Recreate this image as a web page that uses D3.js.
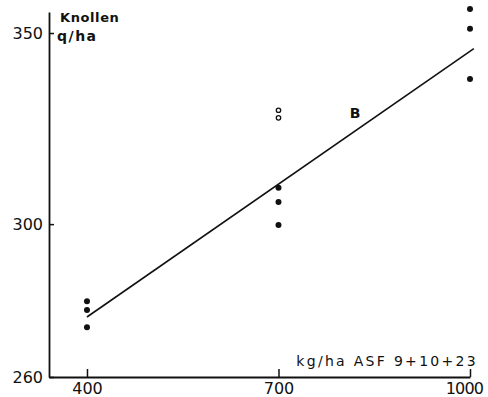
<!DOCTYPE html>
<html><head><meta charset="utf-8">
<script src="https://cdn.jsdelivr.net/npm/d3@7"></script>
<style>
html,body{margin:0;padding:0;background:#fff;}
svg{display:block;}
text{font-family:"DejaVu Sans",sans-serif;fill:#111;}
</style></head>
<body>
<svg id="c" width="488" height="397"></svg>
<script>
// data
const xTickValues = [400, 700, 1000];
const yTickValues = [260, 300, 350];
const dotX = [400, 400, 400, 700, 700, 700, 1000, 1000, 1000];
const dotY = [279.8, 277.5, 273.0, 309.5, 305.8, 299.8, 356.3, 351.1, 338.0];
const openX = [700, 700];
const openY = [329.8, 327.8];
const lineX = [400, 1006];
const lineY = [275.7, 345.9];
const markLabel = {x: 820, y: 329.2, text: "B"};
const yTitle = ["Knollen", "q/ha"];
const xTitle = "kg/ha ASF 9+10+23";

const svg = d3.select("#c");
const x = d3.scaleLinear().domain([340.5, 1000]).range([49, 470]);
const y = d3.scaleLinear().domain([260, 355.5]).range([377, 12]);

// x axis
const gx = svg.append("g").attr("transform", "translate(0,377)")
  .call(d3.axisBottom(x).tickValues(xTickValues).tickSizeInner(-8).tickSizeOuter(0).tickPadding(6).tickFormat(d3.format("d")));
gx.select(".domain").attr("stroke", "#111").attr("stroke-width", 1.8);
gx.selectAll(".tick line").attr("stroke", "#111").attr("stroke-width", 1.5);
gx.selectAll(".tick text").attr("font-size", 16).attr("font-family", "DejaVu Sans").attr("fill", "#111")
  .attr("dx", d => d === 1000 ? -6 : 0).attr("letter-spacing", d => d === 1000 ? -0.8 : 0);

// y axis
const gy = svg.append("g").attr("transform", "translate(49,0)")
  .call(d3.axisLeft(y).tickValues(yTickValues).tickSizeInner(-5).tickSizeOuter(0).tickPadding(6).tickFormat(d3.format("d")));
gy.select(".domain").attr("stroke", "#111").attr("stroke-width", 1.8);
gy.selectAll(".tick line").attr("stroke", "#111").attr("stroke-width", 1.5);
gy.selectAll(".tick text").attr("font-size", 16).attr("font-family", "DejaVu Sans").attr("fill", "#111");

// regression line
svg.append("line")
  .attr("x1", x(lineX[0])).attr("y1", y(lineY[0]))
  .attr("x2", x(lineX[1])).attr("y2", y(lineY[1]))
  .attr("stroke", "#111").attr("stroke-width", 1.6);

// dots
svg.selectAll("circle.d").data(dotX.map((d, i) => [d, dotY[i]])).enter()
  .append("circle").attr("class", "d")
  .attr("cx", d => x(d[0])).attr("cy", d => y(d[1])).attr("r", 3).attr("fill", "#111");

svg.selectAll("circle.o").data(openX.map((d, i) => [d, openY[i]])).enter()
  .append("circle").attr("class", "o")
  .attr("cx", d => x(d[0])).attr("cy", d => y(d[1])).attr("r", 2.2)
  .attr("fill", "none").attr("stroke", "#111").attr("stroke-width", 1.3);

svg.append("text").attr("x", x(markLabel.x)).attr("y", y(markLabel.y))
  .attr("text-anchor", "middle").attr("dominant-baseline", "central")
  .attr("font-size", 14).attr("font-weight", "bold").text(markLabel.text);

// titles
svg.append("text").attr("x", 60).attr("y", 22).attr("font-size", 13).attr("font-weight", "bold").attr("letter-spacing", 0.6).text(yTitle[0]);
svg.append("text").attr("x", 57).attr("y", 41).attr("font-size", 14).attr("font-weight", "bold").attr("letter-spacing", 1.5).text(yTitle[1]);
svg.append("text").attr("x", 478).attr("y", 366).attr("text-anchor", "end")
  .attr("font-size", 14).attr("letter-spacing", 2.3).text(xTitle);
</script>
</body></html>
